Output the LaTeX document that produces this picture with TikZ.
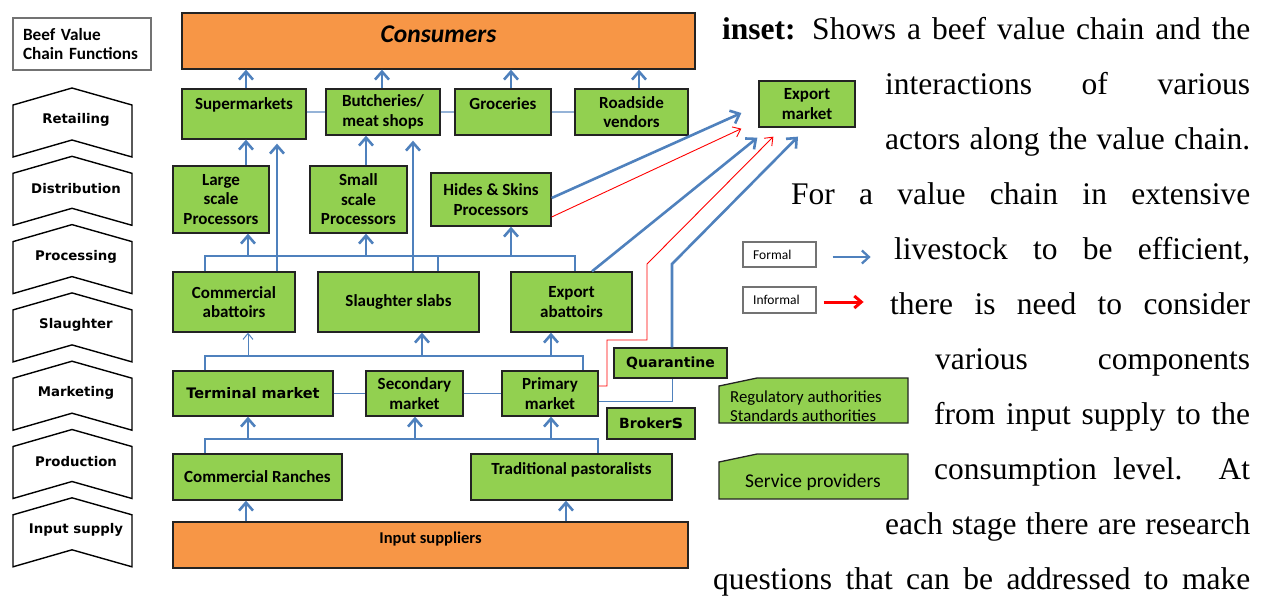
\documentclass[tikz,border=0pt]{standalone}
\usepackage{fontspec}
\setmainfont{Liberation Serif}
\newfontfamily\calfont{Carlito}
\newfontfamily\verdfont{DejaVu Sans}
\usetikzlibrary{arrows.meta}
\definecolor{gfill}{RGB}{146,208,80}
\definecolor{ofill}{RGB}{247,150,70}
\definecolor{lblue}{RGB}{79,129,189}
\definecolor{pblue}{RGB}{149,179,215}
\definecolor{bord}{RGB}{35,35,35}
\tikzset{
  gbox/.style={draw=bord, line width=1.3pt, fill=gfill, align=center, inner sep=0pt,
    font=\calfont\bfseries\fontsize{17}{19.5}\selectfont},
  obox/.style={gbox, fill=ofill},
  vbox/.style={gbox, font=\verdfont\bfseries\fontsize{14.5}{17}\selectfont},
  wbox/.style={draw=black!55, line width=1.2pt, fill=white, inner sep=0pt},
  chev/.style={draw=black, line width=1.4pt, fill=white, line join=miter},
  chevtext/.style={inner sep=0pt, font=\verdfont\bfseries\fontsize{13.3}{15}\selectfont},
  flow/.style={draw=lblue, line width=2.6pt, -{Straight Barb[length=8pt,width=14pt,line width=2.6pt]}},
  bus/.style={draw=lblue, line width=2.6pt},
  thinflow/.style={draw=lblue, line width=1pt, -{Straight Barb[length=6pt,width=10pt,line width=1pt]}},
  link/.style={draw=lblue, line width=1pt},
  plink/.style={draw=pblue, line width=1.6pt},
  rflow/.style={draw=red, line width=0.9pt, -{Straight Barb[length=7pt,width=11pt,line width=0.9pt]}},
  bodytext/.style={anchor=base west, inner sep=0pt, font=\fontsize{31.5}{31.5}\selectfont},
}
\newcommand\bx[7]{\node[#6, minimum width={(#4-#2)*1pt}, minimum height={(#5-#3)*1pt}] (#1) at ({(#2+#4)/2},{(#3+#5)/2}) {#7};}
\newcommand\jl[4]{\node[bodytext] (#1) at (#2,#3) {\makebox[\dimexpr 1250pt-#2pt\relax][s]{#4}};}
\newcommand\rl[2]{\raisebox{#1pt}[0pt][0pt]{#2}}
\begin{document}
\begin{tikzpicture}[x=1pt,y=-1pt]
\useasboundingbox (0,0) rectangle (1265,598);

% ---------- left column ----------
\node[wbox, minimum width=138pt, minimum height=52pt, text width=118pt, align=left,
  font=\calfont\bfseries\fontsize{17.2}{18.5}\selectfont] (beef) at (82,44) {Beef Value\\Chain Functions};
\foreach \i/\t in {0/Retailing,1/Distribution,2/Processing,3/Slaughter,4/Marketing,5/Production,6/Input supply}{
  \pgfmathsetmacro\d{68.3*\i}
  \draw[chev] (13,{105+\d}) -- (72,{88+\d}) -- (132,{105+\d}) -- (132,{157+\d}) -- (72,{140+\d}) -- (13,{157+\d}) -- cycle;
  \node[chevtext] (f\i) at (76,{120+\d}) {\t};
}

% ---------- boxes ----------
\bx{cons}{182}{13}{695}{69}{obox}{\fontsize{25.5}{26}\selectfont\itshape\rl{-1.5}{Consumers}}
\bx{sm}{182}{89}{306}{139}{gbox}{\rl{4.5}{Supermarkets}}
\bx{bu}{326}{89}{440}{135}{gbox}{Butcheries/\\meat shops}
\bx{gr}{455}{89}{551}{135}{gbox}{\rl{2.5}{Groceries}}
\bx{rv}{575}{89}{688}{135}{gbox}{Roadside\\vendors}
\bx{lsp}{173}{166}{269}{233}{gbox}{Large\\scale\\Processors}
\bx{ssp}{310}{166}{407}{233}{gbox}{Small\\scale\\Processors}
\bx{hs}{431}{173}{551}{226}{gbox}{Hides \& Skins\\Processors}
\bx{ca}{173}{272}{295}{332}{gbox}{Commercial\\abattoirs}
\bx{ss}{318}{272}{479}{332}{gbox}{Slaughter slabs}
\bx{ea}{511}{272}{632}{332}{gbox}{Export\\abattoirs}
\bx{tm}{173}{371}{333}{416}{vbox}{Terminal market}
\bx{sec}{366}{371}{463}{416}{gbox}{Secondary\\market}
\bx{pm}{502}{371}{598}{416}{gbox}{Primary\\market}
\bx{qu}{614}{348}{727}{378}{vbox}{\fontsize{14}{15}\selectfont Quarantine}
\bx{br}{607}{408}{695}{439}{vbox}{\fontsize{14}{15}\selectfont Broker{\fontsize{18.5}{15}\selectfont s}}
\bx{cr}{173}{454}{342}{500}{gbox}{Commercial Ranches}
\bx{tp}{471}{454}{672}{500}{gbox}{\rl{2.5}{Traditional pastoralists}}
\bx{is}{173}{522}{688}{568}{obox}{\fontsize{16.5}{15}\selectfont\rl{1.5}{Input suppliers}}
\bx{em}{759}{81}{855}{127}{gbox}{Export\\market}

% regulatory / service (cut-corner boxes)
\draw[draw=bord, line width=1.3pt, fill=gfill] (719,386) -- (757,378) -- (908,378) -- (908,423) -- (719,423) -- cycle;
\node[anchor=west, inner sep=0pt, align=left, font=\calfont\fontsize{16.8}{18.5}\selectfont] (reg) at (730,406) {Regulatory authorities\\Standards authorities};
\draw[draw=bord, line width=1.3pt, fill=gfill] (719,462) -- (757,454) -- (908,454) -- (908,499) -- (719,499) -- cycle;
\node[inner sep=0pt, font=\calfont\fontsize{19.5}{21}\selectfont] (sp) at (813,482) {Service providers};

% legend
\bx{formal}{743}{242}{816}{267}{wbox}{}
\node[anchor=west, inner sep=0pt, font=\calfont\fontsize{13.5}{15}\selectfont] (formaltxt) at (753,254.5) {Formal};
\bx{informal}{743}{287}{816}{313}{wbox}{}
\node[anchor=west, inner sep=0pt, font=\calfont\fontsize{13.5}{15}\selectfont] (informaltxt) at (753,300) {Informal};
\draw[draw=lblue, line width=2.3pt, -{Straight Barb[length=7pt,width=13pt,line width=2.3pt]}] ([shift={(16pt,-2.5pt)}]formal.east) -- ([shift={(54pt,-2.5pt)}]formal.east);
\draw[draw=red, line width=3pt, -{Straight Barb[length=7pt,width=12pt,line width=3pt]}] ([shift={(7pt,-2pt)}]informal.east) -- ([shift={(47pt,-2pt)}]informal.east);

% ---------- connectors ----------
% retail -> consumers
\draw[flow] (246,0 |- sm.north) -- (246,0 |- cons.south);
\draw[flow] (382,0 |- bu.north) -- (382,0 |- cons.south);
\draw[flow] (511,0 |- gr.north) -- (511,0 |- cons.south);
\draw[flow] (639,0 |- rv.north) -- (639,0 |- cons.south);
\draw[plink] (sm.east |- 0,112) -- (bu.west |- 0,112);
\draw[plink] (bu.east |- 0,112) -- (gr.west |- 0,112);
\draw[plink] (gr.east |- 0,112) -- (rv.west |- 0,112);
% processors -> retail
\draw[flow] (246,0 |- lsp.north) -- (246,0 |- sm.south);
\draw[flow] (366,0 |- ssp.north) -- (366,0 |- bu.south);
\draw[flow] (277,0 |- ca.north) -- ([yshift=-4pt]277,0 |- sm.south);
\draw[flow] (413,0 |- ss.north) -- ([yshift=-5pt]413,0 |- bu.south);
% slaughter bus
\coordinate (busA) at (0,256);
\draw[bus] (205,0 |- ca.north) -- (205,0 |- busA) -- (575,0 |- busA) -- (575,0 |- ea.north);
\draw[bus] (438,0 |- busA) -- (438,0 |- ss.north);
\draw[flow] (248,0 |- busA) -- (248,0 |- lsp.south);
\draw[flow] (366,0 |- busA) -- (366,0 |- ssp.south);
\draw[flow] (511,0 |- busA) -- (511,0 |- hs.south);
% export market links
\draw[flow] (hs.east |- 0,198) -- ([shift={(-17pt,-9pt)}]em.west);
\draw[rflow] (hs.east |- 0,217) -- ([shift={(-17pt,-1pt)}]em.south west);
\draw[flow] (592,0 |- ea.north) -- ([shift={(-1pt,-10pt)}]em.south west);
\draw[rflow] (pm.east |- 0,386) -- (607,386) -- (607,340) -- (647,340) -- (647,264) -- ([shift={(15pt,-9pt)}]em.south west);
\draw[link] (pm.east |- 0,401) -- (672,401) -- (672,0 |- qu.south);
\draw[flow] (672,0 |- qu.north) -- (672,264) -- ([shift={(-9pt,-9pt)}]em.south);
% market bus
\coordinate (busB) at (0,356);
\draw[bus] (205,0 |- tm.north) -- (205,0 |- busB) -- (583,0 |- busB) -- (583,0 |- pm.north);
\draw[thinflow] (248,0 |- busB) -- (248,0 |- ca.south);
\draw[flow] (422,0 |- busB) -- (422,0 |- ss.south);
\draw[flow] (551,0 |- busB) -- (551,0 |- ea.south);
\draw[link] (tm.east |- 0,393) -- (sec.west |- 0,393);
\draw[link] (sec.east |- 0,393) -- (pm.west |- 0,393);
% production bus
\coordinate (busC) at (0,439);
\draw[bus] (205,0 |- cr.north) -- (205,0 |- busC) -- (598,0 |- busC) -- (598,0 |- tp.north);
\draw[flow] (248,0 |- busC) -- (248,0 |- tm.south);
\draw[flow] (415,0 |- busC) -- (415,0 |- sec.south);
\draw[flow] (551,0 |- busC) -- (551,0 |- pm.south);
% inputs
\draw[flow] (246,0 |- is.north) -- (246,0 |- cr.south);
\draw[flow] (566,0 |- is.north) -- (566,0 |- tp.south);

% ---------- body text ----------
\jl{t1}{722}{39}{\textbf{inset:} Shows a beef value chain and the}
\jl{t2}{885}{94}{interactions of various}
\jl{t3}{885}{149}{actors along the value chain.}
\jl{t4}{791}{204}{For a value chain in extensive}
\jl{t5}{894}{259}{livestock to be efficient,}
\jl{t6}{890}{314}{there is need to consider}
\jl{t7}{935}{369}{various components}
\jl{t8}{934}{424}{from input supply to the}
\jl{t9}{934}{479}{consumption level. At}
\jl{t10}{885}{534}{each stage there are research}
\jl{t11}{713}{589}{questions that can be addressed to make}
\end{tikzpicture}
\end{document}
